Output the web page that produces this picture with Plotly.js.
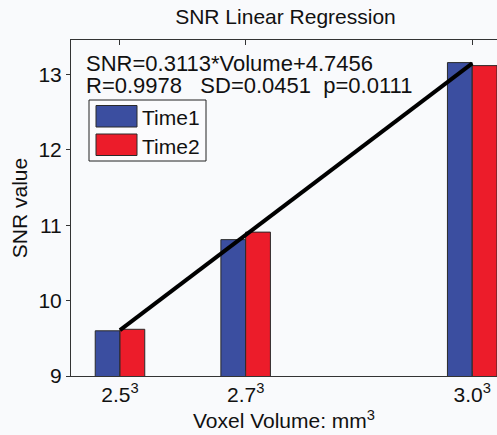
<!DOCTYPE html>
<html>
<head>
<meta charset="utf-8">
<script src="https://cdn.plot.ly/plotly-3.0.1.min.js"></script>
<style>html,body{margin:0;padding:0;background:#f9fafc;}#chart{width:497px;height:435px;}</style>
</head>
<body>
<div id="chart"></div>
<script>
// ---- data ----
var voxelSides = ['2.5', '2.7', '3.0'];
var volumes = [15.625, 19.683, 27];
var time1 = [9.60, 10.81, 13.16];
var time2 = [9.62, 10.91, 13.12];
var fitX = [15.625, 27];
var fitY = [9.61, 13.15];
var yTicks = [9, 10, 11, 12, 13];
var seriesNames = ['Time1', 'Time2'];
var eqText = 'SNR=0.3113*Volume+4.7456';
var statText = 'R=0.9978&nbsp;&nbsp;&nbsp;SD=0.0451&nbsp;&nbsp;p=0.0111';

// ---- layout helpers (pixel -> paper) ----
var W = 497, H = 435, L = 71, R = 0, T = 40, B = 59;
var pw = W - L - R, ph = H - T - B;
function px(x) { return (x - L) / pw; }
function py(y) { return (H - B - y) / ph; }

var blue = '#3b4ea0', red = '#ec1c2a', edge = '#2a2a2a';
var font = 'Liberation Sans, Arial, Helvetica, sans-serif';
var barW = 0.8;

var traces = [
  {type: 'bar', name: seriesNames[0], x: volumes, y: time1, width: barW, offset: -barW,
   marker: {color: blue, line: {color: edge, width: 1}}, showlegend: false},
  {type: 'bar', name: seriesNames[1], x: volumes, y: time2, width: barW, offset: 0,
   marker: {color: red, line: {color: edge, width: 1}}, showlegend: false},
  {type: 'scatter', mode: 'lines', x: fitX, y: fitY, line: {color: '#000', width: 4},
   showlegend: false, name: 'fit'}
];

var shapes = [
  {type: 'rect', xref: 'paper', yref: 'paper', x0: px(89), x1: px(206), y0: py(161), y1: py(100),
   line: {color: '#222', width: 1}, fillcolor: '#fbfbfd'},
  {type: 'rect', xref: 'paper', yref: 'paper', x0: px(96), x1: px(137), y0: py(127), y1: py(105.5),
   line: {color: edge, width: 1}, fillcolor: blue},
  {type: 'rect', xref: 'paper', yref: 'paper', x0: px(96), x1: px(137), y0: py(155.5), y1: py(134),
   line: {color: edge, width: 1}, fillcolor: red}
];

var annotations = [
  {xref: 'paper', yref: 'paper', x: px(84), y: py(63.5), xanchor: 'left', yanchor: 'middle',
   text: eqText, showarrow: false, font: {family: font, size: 22, color: '#111'}},
  {xref: 'paper', yref: 'paper', x: px(84), y: py(86), xanchor: 'left', yanchor: 'middle',
   text: statText, showarrow: false, font: {family: font, size: 22, color: '#111'}},
  {xref: 'paper', yref: 'paper', x: px(140), y: py(117.5), xanchor: 'left', yanchor: 'middle',
   text: seriesNames[0], showarrow: false, font: {family: font, size: 21, color: '#111'}},
  {xref: 'paper', yref: 'paper', x: px(140), y: py(146), xanchor: 'left', yanchor: 'middle',
   text: seriesNames[1], showarrow: false, font: {family: font, size: 21, color: '#111'}}
];

var layout = {
  width: W, height: H,
  margin: {l: L, r: R, t: T, b: B, pad: 0},
  paper_bgcolor: '#f9fafc', plot_bgcolor: '#f9fafc',
  font: {family: font, color: '#111'},
  title: {text: 'SNR Linear Regression', font: {family: font, size: 21, color: '#111'},
          x: 285.5 / W, xanchor: 'center', xref: 'container', y: 1 - 16.5 / H, yanchor: 'middle', yref: 'container'},
  barmode: 'overlay',
  xaxis: {
    range: [14.043, 27.8], tickmode: 'array', tickvals: volumes,
    ticktext: voxelSides.map(function (s) { return s + '<sup>3</sup>'; }),
    ticks: 'inside', ticklen: 5, tickcolor: '#333', showline: true, linecolor: '#333', linewidth: 1,
    mirror: 'ticks', showgrid: false, zeroline: false,
    tickfont: {family: font, size: 21, color: '#111'},
    title: {text: 'Voxel Volume: mm<sup>3</sup>', font: {family: font, size: 21, color: '#111'}, standoff: 8},
    automargin: true
  },
  yaxis: {
    range: [9, 13.46], tickmode: 'array', tickvals: yTicks,
    ticks: 'outside', ticklen: 4, tickcolor: '#333', showline: true, linecolor: '#333', linewidth: 1,
    mirror: false, showgrid: false, zeroline: false,
    tickfont: {family: font, size: 21, color: '#111'},
    title: {text: 'SNR value', font: {family: font, size: 21, color: '#111'}, standoff: 5},
    automargin: true
  },
  shapes: shapes,
  annotations: annotations
};

Plotly.newPlot('chart', traces, layout, {displayModeBar: false, staticPlot: true});
</script>
</body>
</html>
